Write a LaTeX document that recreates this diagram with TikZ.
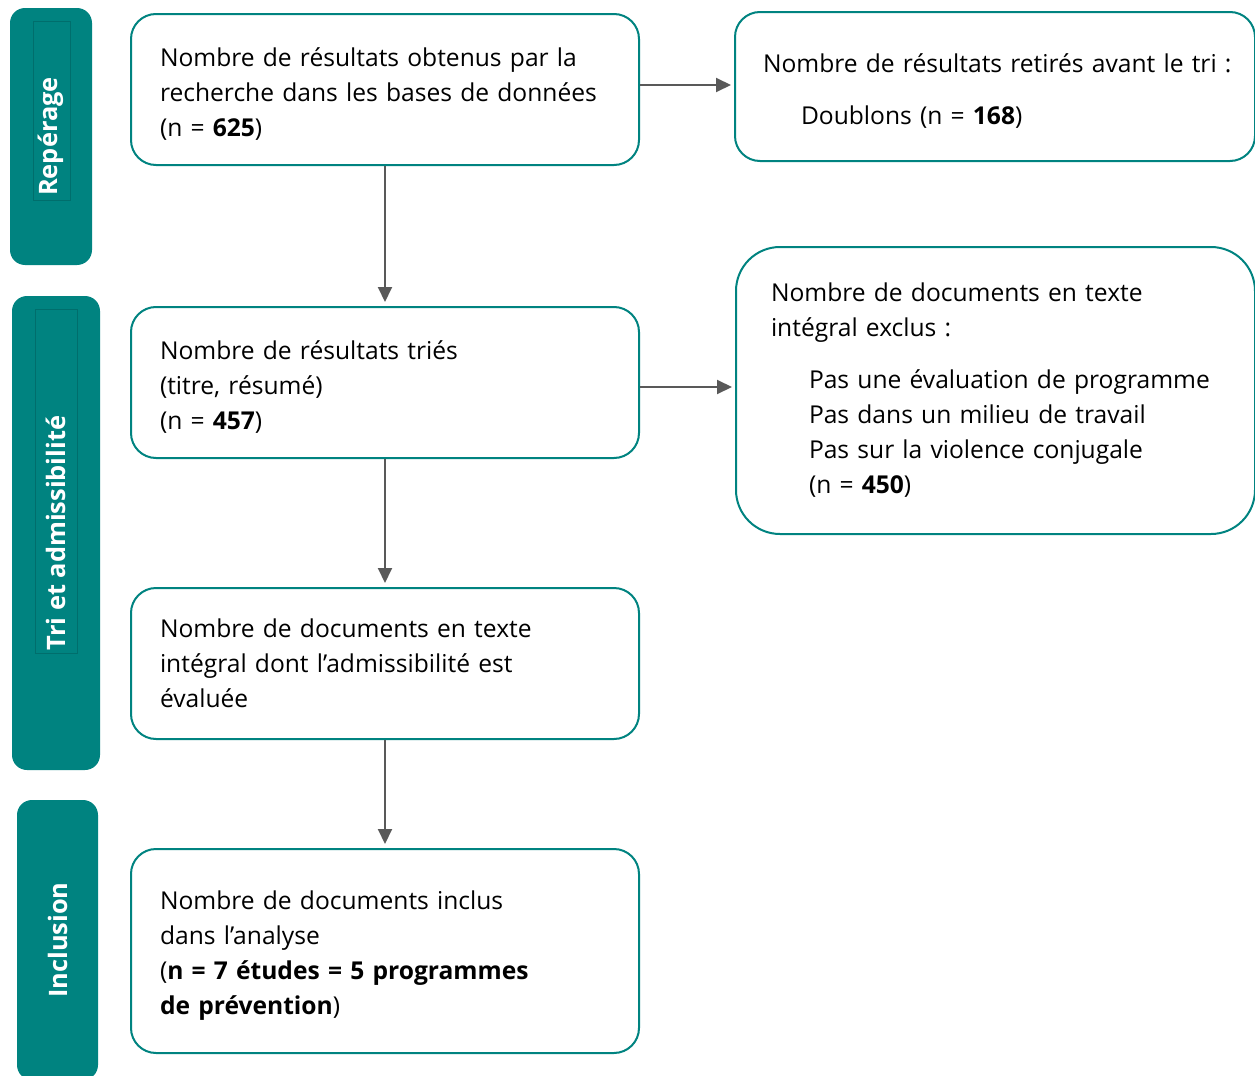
\documentclass[tikz,border=0pt]{standalone}
\usepackage{fontspec}
\setmainfont{Open Sans}
\definecolor{myteal}{RGB}{0,131,128}
\definecolor{mytealdark}{RGB}{0,110,108}
\definecolor{mygray}{RGB}{89,89,89}
\usetikzlibrary{arrows.meta,positioning}

\begin{document}
\begin{tikzpicture}[
  x=0.5pt, y=-0.5pt,
  font=\fontsize{12.3}{17.5}\selectfont,
  mybox/.style={
    draw=myteal,
    line width=1pt,
    rounded corners=12.5pt,
    fill=white,
    text width=#1,
    align=left,
    inner xsep=14.5pt,
    inner ysep=0pt
    },
  mylow/.style={execute at end node={\vspace*{-4.5pt}}},
  mybar/.style={fill=myteal, rounded corners=7.5pt, inner sep=0pt},
  mylabel/.style={rotate=90, text=white, font=\fontsize{12.7}{15}\selectfont\bfseries},
  myframe/.style={draw=mytealdark, line width=0.3pt},
  myarrow/.style={draw=mygray, line width=1pt, -{Triangle[length=7.5pt,width=7pt]}}
]
\useasboundingbox (0,0) rectangle (1255,1076);

% bandes de gauche
\node[mybar, minimum width=41pt, minimum height=128.5pt] (barrep) at (51,136.5) {};
\draw[myframe] (33,21) rectangle (70,200);
\node[mylabel] (labrep) at (barrep) {Repérage};

\node[mybar, minimum width=44pt, minimum height=237pt] (bartri) at (56,533) {};
\draw[myframe] (35,309) rectangle (77,653);
\node[mylabel] (labtri) at (bartri) {Tri et admissibilité};

\node[mybar, minimum width=40.5pt, minimum height=140pt] (barinc) at (57.5,940) {};
\node[mylabel] (labinc) at (barinc) {Inclusion};

% colonne principale
\node[mybox=225pt, mylow, minimum height=75.5pt] (res) at (385,89.5)
  {Nombre de résultats obtenus par la\\
   recherche dans les bases de données\\
   (n = \textbf{625})};

\node[mybox=225pt, mylow, minimum height=75.5pt] [below=70pt of res] (tries)
  {Nombre de résultats triés\\
   (titre, résumé)\\
   (n = \textbf{457})};

\node[mybox=225pt, minimum height=75.5pt] [below=64pt of tries] (integ)
  {Nombre de documents en texte\\
   intégral dont l’admissibilité est\\
   évaluée};

\node[mybox=225pt, mylow, minimum height=102pt] [below=54pt of integ] (inclus)
  {Nombre de documents inclus\\
   dans l’analyse\\
   (\textbf{n = 7 études = 5 programmes}\\
   \textbf{de prévention})};

% colonne de droite
\node[mybox=232pt, mylow, inner xsep=14pt, minimum height=74.5pt, anchor=west] (retir) at (734,86.5)
  {\mbox{Nombre de résultats retirés avant le tri :}\\[8.5pt]
   \hspace*{19pt}Doublons (n = \textbf{168})};

\node[mybox=224.5pt, inner xsep=17.5pt, minimum height=143.5pt, rounded corners=22pt, anchor=west] (exclus) at (735,390.5)
  {Nombre de documents en texte\\
   intégral exclus :\\[8.5pt]
   \hspace*{19pt}\mbox{Pas une évaluation de programme}\\
   \hspace*{19pt}Pas dans un milieu de travail\\
   \hspace*{19pt}Pas sur la violence conjugale\\
   \hspace*{19pt}(n = \textbf{450})};

% fleches
\draw[myarrow, shorten >=2pt] (res) -- (tries);
\draw[myarrow, shorten >=2pt] (tries) -- (integ);
\draw[myarrow, shorten >=2pt] (integ) -- (inclus);
\draw[myarrow, shorten >=1.5pt] ([yshift=2.25pt]res.east) -- ([yshift=2.25pt]res.east -| retir.west);
\draw[myarrow, shorten >=1.5pt] ([yshift=-2.25pt]tries.east) -- ([yshift=-2.25pt]tries.east -| exclus.west);
\end{tikzpicture}
\end{document}
